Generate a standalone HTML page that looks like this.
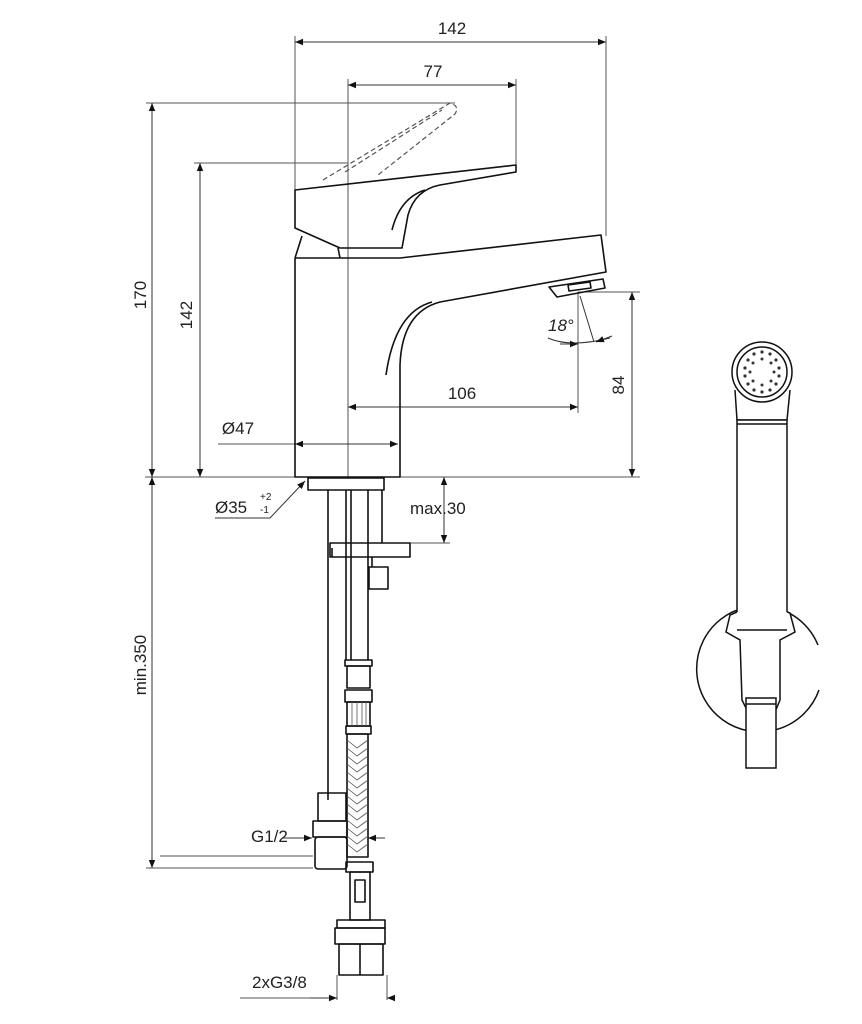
<!DOCTYPE html>
<html><head><style>
html,body{margin:0;padding:0;background:#fff;}
svg{display:block;}
text{font-family:"Liberation Sans",sans-serif;font-size:17px;fill:#222;}
</style></head><body>
<svg width="862" height="1024" viewBox="0 0 862 1024" xmlns="http://www.w3.org/2000/svg">
<defs>
<marker id="a" viewBox="0 0 10 10" refX="10" refY="5" markerWidth="10" markerHeight="8" orient="auto-start-reverse" markerUnits="userSpaceOnUse"><path d="M0,1 L10,5 L0,9 Z" fill="#111"/></marker>
</defs>
<g stroke="#555" stroke-width="1" fill="none">
<line x1="295" y1="36" x2="295" y2="190"/>
<line x1="606" y1="36" x2="606" y2="236"/>
<line x1="348" y1="79" x2="348" y2="477"/>
<line x1="516" y1="79" x2="516" y2="165"/>
<line x1="146" y1="103" x2="455" y2="103"/>
<line x1="194" y1="163" x2="348" y2="163"/>
<line x1="145" y1="477" x2="640" y2="477"/>
<line x1="578" y1="292" x2="640" y2="292"/>
<line x1="578" y1="292" x2="578" y2="413"/>
<line x1="218" y1="444" x2="295" y2="444"/>
<line x1="400" y1="543" x2="450" y2="543"/>
<line x1="146" y1="868" x2="313" y2="868"/>
<line x1="160" y1="856" x2="313" y2="856"/>
<line x1="337" y1="975" x2="337" y2="1000"/>
<line x1="387" y1="975" x2="387" y2="1000"/>
<line x1="240" y1="998" x2="337" y2="998"/>
</g>
<g stroke="#333" stroke-width="1" fill="none">
<line x1="295" y1="42" x2="606" y2="42" marker-start="url(#a)" marker-end="url(#a)"/>
<line x1="348" y1="85" x2="516" y2="85" marker-start="url(#a)" marker-end="url(#a)"/>
<line x1="152" y1="103" x2="152" y2="477" marker-start="url(#a)" marker-end="url(#a)"/>
<line x1="200" y1="163" x2="200" y2="477" marker-start="url(#a)" marker-end="url(#a)"/>
<line x1="348" y1="407" x2="578" y2="407" marker-start="url(#a)" marker-end="url(#a)"/>
<line x1="295" y1="444" x2="398" y2="444" marker-start="url(#a)" marker-end="url(#a)"/>
<line x1="632" y1="292" x2="632" y2="477" marker-start="url(#a)" marker-end="url(#a)"/>
<line x1="152" y1="477" x2="152" y2="868" marker-start="url(#a)" marker-end="url(#a)"/>
<line x1="444" y1="477" x2="444" y2="543" marker-start="url(#a)" marker-end="url(#a)"/>
<line x1="282" y1="838" x2="312" y2="838" marker-end="url(#a)"/>
<line x1="385" y1="838" x2="368" y2="838" marker-end="url(#a)"/>
<line x1="310" y1="998" x2="337" y2="998" marker-end="url(#a)"/>
<line x1="395" y1="998" x2="387" y2="998" marker-end="url(#a)"/>
<polyline points="215,518 270,518 305,481" marker-end="url(#a)"/>
<line x1="580" y1="296" x2="594" y2="342"/>
<path d="M548,338 Q570,348 610,338"/>
<line x1="560" y1="344" x2="578" y2="344" marker-end="url(#a)"/>
<line x1="612" y1="336" x2="596" y2="342" marker-end="url(#a)"/>
</g>
<g stroke="#555" stroke-width="1.2" fill="none" stroke-dasharray="5,3">
<path d="M323,180 L450,103 Q460,106 455,114 L378,175"/>
<path d="M345,172 L442,110"/>
</g>
<g stroke="#111" stroke-width="1.6" fill="none" stroke-linejoin="round">
<path d="M295,190 L516,165 L516,172 L440,185 Q415,190 408,215 L402,248 L340,248 L295,228 Z"/>
<path d="M425,190 Q400,198 392,230"/>
<path d="M302,236 L295,258"/>
<path d="M295,258 L295,477 L400,477 L400,365 Q402,312 440,302 L606,272 L601,235 L400,258 L295,258"/>
<line x1="338" y1="248" x2="340" y2="258"/>
<path d="M432,302 Q395,312 386,375"/>
<path d="M549,287 L603,279 L605,288 L557,297 Z"/>
<path d="M568,285 L590,282 L591,288 L569,291 Z"/>
<rect x="308" y="478" width="76" height="12"/>
<line x1="328" y1="490" x2="328" y2="800"/>
<line x1="346" y1="490" x2="346" y2="660"/>
<line x1="351" y1="490" x2="351" y2="660"/>
<line x1="368" y1="490" x2="368" y2="660"/>
<line x1="382" y1="490" x2="382" y2="543"/>
<path d="M330,543 L410,543 L410,557 L330,557 Z"/>
<line x1="332" y1="548" x2="332" y2="557"/>
<rect x="369" y="567" width="19" height="22"/>
<line x1="372" y1="557" x2="372" y2="567"/>
<rect x="345" y="660" width="27" height="6"/>
<rect x="347" y="666" width="23" height="22"/>
<path d="M345,690 L372,690 L372,702 L345,702 Z"/>
<rect x="347" y="702" width="23" height="24"/>
<rect x="346" y="726" width="25" height="8"/>
<rect x="347" y="734" width="21" height="123"/>
<rect x="318" y="793" width="28" height="28"/>
<rect x="313" y="821" width="34" height="16"/>
<rect x="315" y="837" width="32" height="32" rx="3"/>
<rect x="346" y="862" width="27" height="10"/>
<rect x="350" y="872" width="20" height="48"/>
<rect x="355" y="880" width="10" height="22"/>
<rect x="337" y="920" width="48" height="8"/>
<rect x="335" y="928" width="50" height="16"/>
<rect x="339" y="944" width="44" height="31"/>
<line x1="360" y1="944" x2="360" y2="975"/>
</g>
<g stroke="#555" stroke-width="0.8" fill="none">
<path d="M347,740 L357,748 L368,740 M347,748 L357,756 L368,748 M347,756 L357,764 L368,756 M347,764 L357,772 L368,764 M347,772 L357,780 L368,772 M347,780 L357,788 L368,780 M347,788 L357,796 L368,788 M347,796 L357,804 L368,796 M347,804 L357,812 L368,804 M347,812 L357,820 L368,812 M347,820 L357,828 L368,820 M347,828 L357,836 L368,828 M347,836 L357,844 L368,836 M347,844 L357,852 L368,844"/>
<path d="M352,702 V726 M357,702 V726 M362,702 V726 M366,702 V726"/>
</g>
<g stroke="#111" stroke-width="1.5" fill="none">
<path d="M818,645 A63,63 0 1 0 819,690" fill="#fff"/>
<circle cx="762" cy="372" r="30" fill="#fff"/>
<circle cx="762" cy="372" r="25"/>
<path d="M735,390 L737,420 L787,420 L790,390"/>
<rect x="737" y="420" width="50" height="210" fill="#fff"/>
<line x1="737" y1="424" x2="787" y2="424"/>
<path d="M737,612 L730,615 L726,632 L740,640 L742,700 L748,712 L775,712 L780,700 L780,640 L795,632 L790,613 L787,612" fill="#fff"/>
<line x1="737" y1="630" x2="787" y2="630"/>
<rect x="746" y="698" width="30" height="70" fill="#fff"/>
<line x1="746" y1="704" x2="776" y2="704"/>
</g>
<g fill="#333">
<circle cx="762" cy="352" r="1.6"/><circle cx="770" cy="354" r="1.6"/><circle cx="776" cy="360" r="1.6"/><circle cx="779" cy="368" r="1.6"/><circle cx="779" cy="376" r="1.6"/><circle cx="776" cy="384" r="1.6"/><circle cx="770" cy="390" r="1.6"/><circle cx="762" cy="392" r="1.6"/><circle cx="754" cy="390" r="1.6"/><circle cx="748" cy="384" r="1.6"/><circle cx="745" cy="376" r="1.6"/><circle cx="745" cy="368" r="1.6"/><circle cx="748" cy="360" r="1.6"/><circle cx="754" cy="354" r="1.6"/>
<circle cx="762" cy="359" r="1.5"/><circle cx="771" cy="363" r="1.5"/><circle cx="774" cy="372" r="1.5"/><circle cx="771" cy="381" r="1.5"/><circle cx="762" cy="385" r="1.5"/><circle cx="753" cy="381" r="1.5"/><circle cx="750" cy="372" r="1.5"/><circle cx="753" cy="363" r="1.5"/>
</g>
<text x="452" y="34" text-anchor="middle">142</text>
<text x="433" y="77" text-anchor="middle">77</text>
<text x="462" y="399" text-anchor="middle">106</text>
<text x="238" y="434" text-anchor="middle">Ø47</text>
<text x="548" y="331" font-style="italic">18°</text>
<text x="410" y="514">max.30</text>
<text x="215" y="513">Ø35</text>
<text x="260" y="500" style="font-size:10px">+2</text>
<text x="260" y="513" style="font-size:10px">-1</text>
<text x="251" y="842">G1/2</text>
<text x="252" y="988">2xG3/8</text>
<text transform="translate(146,295) rotate(-90)" text-anchor="middle">170</text>
<text transform="translate(192,315) rotate(-90)" text-anchor="middle">142</text>
<text transform="translate(624,385) rotate(-90)" text-anchor="middle">84</text>
<text transform="translate(146,665) rotate(-90)" text-anchor="middle">min.350</text>
</svg>
</body></html>
